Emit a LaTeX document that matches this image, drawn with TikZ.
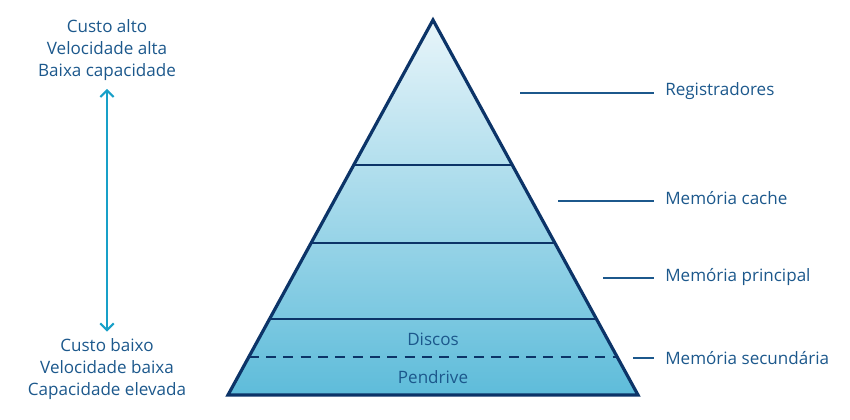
\documentclass[tikz,border=0pt]{standalone}
\usepackage{fontspec}
\setmainfont{Open Sans}
\usetikzlibrary{calc,arrows.meta}
\definecolor{txtblue}{RGB}{28,88,140}
\definecolor{navy}{RGB}{12,52,104}
\definecolor{arrowcyan}{RGB}{24,160,200}
\definecolor{toplight}{RGB}{232,245,250}
\definecolor{botdark}{RGB}{94,188,218}
\begin{document}
\begin{tikzpicture}[x=0.75pt, y=-0.75pt,
    lbl/.style={text=txtblue, font=\fontsize{12.8}{16.5}\selectfont, inner sep=0pt},
    leader/.style={draw=txtblue, line width=1.1pt},
    layer/.style={draw=navy, line width=1.6pt}]
  \useasboundingbox (0,0) rectangle (850,420);
  \coordinate (apex) at (433,20);
  \coordinate (bl) at (228,395);
  \coordinate (br) at (638,395);
  % pyramid
  \shade[top color=toplight, bottom color=botdark] (apex) -- (bl) -- (br) -- cycle;
  \foreach \t in {0.387,0.595,0.797}
    \draw[layer] ($(apex)!\t!(bl)$) -- ($(apex)!\t!(br)$);
  \draw[navy, line width=1.4pt, dash pattern=on 7.5pt off 5.5pt]
    ($(apex)!0.899!(bl)$) -- ($(apex)!0.899!(br)$);
  \draw[navy, line width=2.4pt, line join=miter] (apex) -- (bl) -- (br) -- cycle;
  \node[lbl] (discos) at (433,339) {Discos};
  \node[lbl] (pendrive) at (433,377) {Pendrive};
  % levels on the right
  \node[lbl, anchor=west] (reg) at (665,91) {Registradores};
  \node[lbl, anchor=west] (cache) at (665,198) {Memória cache};
  \node[lbl, anchor=west] (princ) at (665,277) {Memória principal};
  \node[lbl, anchor=west] (sec) at (665,358) {Memória secundária};
  \coordinate (r1) at (520,93);
  \coordinate (r2) at (558,201);
  \coordinate (r3) at (603,278);
  \coordinate (r4) at (633,358);
  \draw[leader] (r1) -- (r1 -| 654,0);
  \draw[leader] (r2) -- (r2 -| 654,0);
  \draw[leader] (r3) -- (r3 -| 654,0);
  \draw[leader] (r4) -- (r4 -| 654,0);
  % cost / speed / capacity
  \node[lbl, align=center] (high) at (107,50) {Custo alto\\Velocidade alta\\Baixa capacidade};
  \node[lbl, align=center] (low) at (107,369) {Custo baixo\\Velocidade baixa\\Capacidade elevada};
  \draw[arrowcyan, line width=1.6pt, {Straight Barb[length=5pt,width=10pt]}-{Straight Barb[length=5pt,width=10pt]}]
    ([yshift=-6pt]high.south) -- ([yshift=5pt]low.north);
\end{tikzpicture}
\end{document}
